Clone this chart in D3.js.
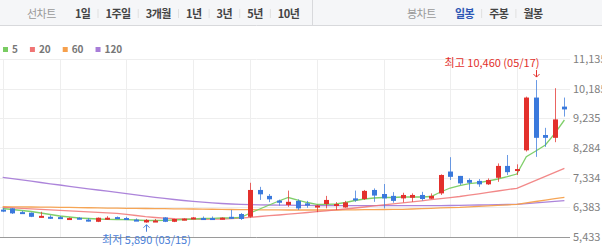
<!DOCTYPE html>
<html>
<head>
<meta charset="utf-8">
<script src="https://cdn.jsdelivr.net/npm/d3@7"></script>
<style>
  body { margin: 0; background: #fff; }
  svg text { font-family: "Noto Sans CJK KR", "Noto Sans", sans-serif; }
</style>
</head>
<body>
<svg id="chart" width="602" height="247"></svg>
<script>
// daily candles, oldest first
var opens  = [6310,6350,6230,6210,6070,6080,6070,6010,6050,5990,5920,6020,6070,6040,5990,5900,5930,6060,5920,5990,6030,6040,6040,6020,6080,6170,6080,6940,6750,6600,6460,6590,6510,6390,6490,6450,6380,6670,6650,6940,6810,6750,6670,6690,6780,6660,6830,7530,7390,7260,7230,7120,7330,7710,7550,8210,9900,8700,8610,9610];
var highs  = [6360,6360,6270,6220,6240,6130,6110,6060,6070,6040,6060,6100,6090,6080,6030,6010,6010,6070,6020,6030,6070,6090,6090,6060,6300,6200,7170,7040,6810,6630,6920,6640,6590,6470,6750,6550,6590,6920,6940,6990,7130,6870,6850,6830,6880,6830,7440,7990,7390,7310,7290,7310,7790,8060,7760,9930,10460,8930,10200,9900];
var lows   = [6230,6170,6170,6070,6060,6010,6010,6000,6000,5930,5910,5980,6020,6000,5950,5890,5920,5910,5910,5970,6000,5980,5990,6000,6010,5980,6050,6620,6550,6440,6400,6300,6370,6230,6350,6300,6370,6560,6620,6560,6350,6530,6540,6560,6600,6650,6780,7260,7100,6940,7040,7100,7200,7420,7420,8170,8000,8320,8470,9290];
var closes = [6280,6190,6200,6080,6110,6050,6040,6040,6010,5960,6050,6050,6040,6020,5970,5980,5960,5920,6010,6020,6060,6020,6020,6050,6030,6010,6940,6800,6640,6530,6560,6350,6440,6440,6620,6490,6540,6620,6910,6760,6670,6590,6780,6780,6650,6750,7420,7360,7150,7170,7120,7260,7710,7510,7610,9900,8610,8610,9200,9520];

// moving averages
var ma5   = [6346,6314,6282,6250,6202,6154,6106,6074,6042,6026,6010,6000,5994,5987,5978,5962,5962,5968,5978,5994,6010,6026,6032,6042,6048,6058,6202,6330,6458,6586,6698,6618,6538,6480,6480,6490,6538,6602,6650,6682,6698,6698,6714,6714,6714,6730,6874,7002,7082,7146,7178,7227,7291,7364,7451,8005,8188,8380,8754,9181];
var ma20  = [6384,6368,6352,6336,6320,6304,6288,6272,6256,6240,6224,6208,6192,6160,6122,6086,6058,6035,6019,6010,6003,6000,6003,6010,6022,6038,6064,6090,6115,6138,6163,6189,6218,6243,6272,6301,6330,6362,6394,6429,6461,6493,6525,6560,6592,6628,6660,6695,6730,6775,6817,6862,6906,6951,6993,7121,7249,7377,7505,7633];
var ma60  = [6404,6400,6397,6394,6391,6388,6384,6380,6375,6370,6365,6360,6355,6352,6349,6346,6342,6339,6336,6333,6330,6326,6322,6317,6314,6311,6307,6304,6301,6299,6298,6298,6298,6298,6298,6298,6300,6304,6307,6311,6314,6317,6320,6330,6342,6352,6365,6375,6384,6400,6416,6432,6448,6464,6480,6525,6570,6615,6660,6705];
var ma120 = [7345,7304,7262,7220,7179,7137,7099,7057,7015,6977,6938,6903,6865,6823,6781,6743,6705,6669,6634,6602,6573,6548,6525,6506,6490,6480,6471,6464,6458,6455,6452,6448,6445,6442,6442,6439,6439,6438,6438,6437,6437,6436,6436,6436,6436,6436,6439,6442,6448,6455,6458,6464,6471,6474,6480,6503,6525,6548,6573,6596];

var maNames  = ["5", "20", "60", "120"];
var yTicks   = [5433, 6383, 7334, 8284, 9235, 10185, 11135];
var gridIdx  = [0, 6, 13, 20, 26, 33, 40, 47, 54];   // candles that get a vertical grid line
var periodTabs = ["1일", "1주일", "3개월", "1년", "3년", "5년", "10년"];
var candleTabs = ["일봉", "주봉", "월봉"];

var hiIdx = 56, hiText = "최고 10,460 (05/17)";
var loIdx = 15, loText = "최저 5,890 (03/15)";

var svg = d3.select("#chart");
var upColor = "#e3302c", downColor = "#3a79dc";
var maColors = ["#79cc62", "#f07474", "#f6a04c", "#a87dd8"];

var plotRight = 570;
var xScale = d3.scaleLinear().domain([0, closes.length - 1]).range([2.7, 564.4]);
var yScale = d3.scaleLinear().domain([5433, 11135]).range([237, 59]);

// ---- top tab bar ----
svg.append("rect").attr("x", 0).attr("y", 0).attr("width", 602).attr("height", 25).attr("fill", "#f5f6f8");
svg.append("line").attr("x1", 0).attr("x2", 602).attr("y1", 25.5).attr("y2", 25.5).attr("stroke", "#d8d9dc");
svg.append("line").attr("x1", 312.5).attr("x2", 312.5).attr("y1", 0).attr("y2", 25).attr("stroke", "#d8d9dc");

function tabRow(x, title, labels, activeIdx) {
  var t = svg.append("text").attr("x", x).attr("y", 17.5)
    .attr("font-size", 11).attr("fill", "#999").attr("letter-spacing", -0.5).text(title);
  x += t.node().getComputedTextLength() + 19;
  labels.forEach(function(l, i) {
    if (i > 0) {
      svg.append("line").attr("x1", x - 7.5).attr("x2", x - 7.5).attr("y1", 9).attr("y2", 18)
        .attr("stroke", "#e0e0e0");
    }
    var s = svg.append("text").attr("x", x).attr("y", 17.5)
      .attr("font-size", 11).attr("font-weight", "bold").attr("letter-spacing", -0.5)
      .attr("fill", i === activeIdx ? "#2c56b4" : "#444").text(l);
    x += s.node().getComputedTextLength() + 15;
  });
}
tabRow(27, "선차트", periodTabs, -1);
tabRow(407, "봉차트", candleTabs, 0);

// ---- legend ----
var lx = 3;
maNames.forEach(function(n, i) {
  svg.append("rect").attr("x", lx).attr("y", 47).attr("width", 5).attr("height", 5).attr("fill", maColors[i]);
  var t = svg.append("text").attr("x", lx + 9).attr("y", 52.5)
    .attr("font-size", 10).attr("font-weight", "bold").attr("fill", "#777").text(n);
  lx += 9 + t.node().getComputedTextLength() + 12;
});

// ---- grid ----
var grid = svg.append("g");
grid.selectAll(".hg").data(yTicks).enter().append("line")
  .attr("x1", 0).attr("x2", plotRight)
  .attr("y1", function(d) { return Math.round(yScale(d)) + 0.5; })
  .attr("y2", function(d) { return Math.round(yScale(d)) + 0.5; })
  .attr("stroke", "#eeeeee");
grid.selectAll(".vg").data(gridIdx).enter().append("line")
  .attr("x1", function(d) { return Math.round(xScale(d)) + 0.5; })
  .attr("x2", function(d) { return Math.round(xScale(d)) + 0.5; })
  .attr("y1", yScale(11135)).attr("y2", yScale(5433))
  .attr("stroke", "#eeeeee");

svg.append("line").attr("x1", 0).attr("x2", plotRight)
  .attr("y1", Math.round(yScale(5433)) + 0.5).attr("y2", Math.round(yScale(5433)) + 0.5)
  .attr("stroke", "#9a9a9a");

// right axis labels
svg.append("g").attr("transform", "translate(" + plotRight + ",0)")
  .call(d3.axisRight(yScale).tickValues(yTicks).tickSize(0).tickPadding(3).tickFormat(d3.format(",")))
  .call(function(g) { g.select(".domain").remove(); })
  .selectAll("text")
    .attr("font-family", "'Liberation Sans', Arial, sans-serif")
    .attr("font-size", 11).attr("fill", "#808080");

// ---- moving averages ----
var clip = svg.append("clipPath").attr("id", "plotclip").append("rect")
  .attr("x", 0).attr("y", 26).attr("width", plotRight).attr("height", 211);

var line = d3.line().x(function(d, i) { return xScale(i); }).y(function(d) { return yScale(d); });
var maGroup = svg.append("g").attr("clip-path", "url(#plotclip)");
[ma120, ma60, ma20, ma5].forEach(function(arr, k) {
  var ci = 3 - k;
  maGroup.append("path").datum(arr)
    .attr("fill", "none")
    .attr("stroke", maColors[ci])
    .attr("stroke-width", 1.3)
    .attr("stroke-opacity", ci == 1 ? 0.85 : 0.95)
    .attr("d", line);
});

// ---- candles ----
var candles = svg.append("g").selectAll("g").data(closes).enter().append("g");

candles.append("line")
  .attr("x1", function(d, i) { return Math.round(xScale(i)) + 0.5; })
  .attr("x2", function(d, i) { return Math.round(xScale(i)) + 0.5; })
  .attr("y1", function(d, i) { return yScale(highs[i]); })
  .attr("y2", function(d, i) { return yScale(lows[i]); })
  .attr("stroke", function(d, i) { return d >= opens[i] ? upColor : downColor; })
  .attr("stroke-opacity", 0.75);

candles.append("rect")
  .attr("x", function(d, i) { return Math.round(xScale(i)) - 2; })
  .attr("width", 5)
  .attr("y", function(d, i) { return yScale(Math.max(d, opens[i])); })
  .attr("height", function(d, i) { return Math.max(2, yScale(Math.min(d, opens[i])) - yScale(Math.max(d, opens[i]))); })
  .attr("fill", function(d, i) { return d >= opens[i] ? upColor : downColor; });

// ---- high / low markers ----
var hx = Math.round(xScale(hiIdx)) + 0.5, hy = yScale(highs[hiIdx]);
svg.append("path")
  .attr("d", "M" + hx + "," + (hy - 10) + "V" + (hy - 3) + "M" + (hx - 3) + "," + (hy - 6) + "L" + hx + "," + (hy - 3) + "L" + (hx + 3) + "," + (hy - 6))
  .attr("stroke", "#e3302c").attr("fill", "none");
svg.append("text").attr("x", hx + 3).attr("y", hy - 13)
  .attr("text-anchor", "end").attr("font-size", 11).attr("fill", "#e3302c").text(hiText);

var lx2 = Math.round(xScale(loIdx)) + 0.5, ly = yScale(lows[loIdx]);
svg.append("path")
  .attr("d", "M" + lx2 + "," + (ly + 9) + "V" + (ly + 2) + "M" + (lx2 - 3) + "," + (ly + 5) + "L" + lx2 + "," + (ly + 2) + "L" + (lx2 + 3) + "," + (ly + 5))
  .attr("stroke", "#4a80d8").attr("fill", "none");
svg.append("text").attr("x", lx2).attr("y", ly + 21)
  .attr("text-anchor", "middle").attr("font-size", 11).attr("fill", "#4a80d8").text(loText);
</script>
</body>
</html>
